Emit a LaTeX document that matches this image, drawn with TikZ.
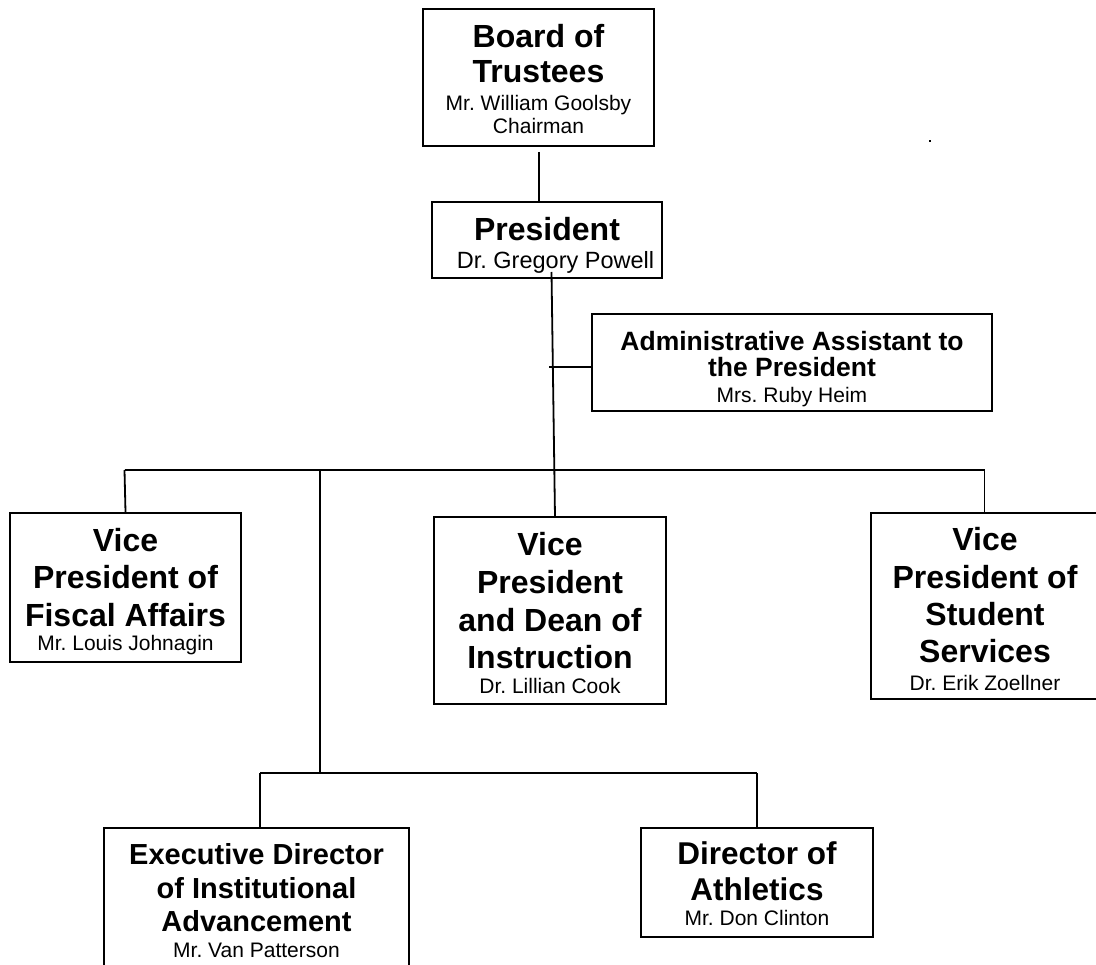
\documentclass[tikz,border=0pt]{standalone}
\usepackage{fontspec}
\setmainfont{Liberation Sans}
\frenchspacing
\newcommand\Tf[1]{\fontsize{#1}{#1}\selectfont\bfseries}
\newcommand\Nf[1]{\fontsize{#1}{#1}\selectfont\mdseries}
% one centred line whose baseline sits #1 pt below the previous one
\newcommand\orgline[3]{\baselineskip=#1pt\relax\hbox to 0pt{\hss{#2#3}\hss}}
\newcommand\orgstack[1]{\vbox{\lineskiplimit=-1000pt\lineskip=0pt\parskip=0pt #1}}
\tikzset{
  orgbox/.style={draw=black, line width=1.8pt, inner sep=0pt, minimum width=#1},
  txt/.style={anchor=north, inner sep=0pt},
  link/.style={draw=black, line width=1.8pt},
}
\begin{document}
\begin{tikzpicture}[x=1pt,y=-1pt]
\clip (0,0) rectangle (1096,965);
\fill[white] (0,0) rectangle (1096,965);

% boxes
\node[orgbox=231pt, minimum height=137pt] (board) at (538.5,77.5) {};
\node[orgbox=230pt, minimum height=76pt] (pres) at (547,240) {};
\node[orgbox=400pt, minimum height=97pt] (admin) at (792,362.5) {};
\node[orgbox=231pt, minimum height=149pt] (vpf) at (125.5,587.5) {};
\node[orgbox=232pt, minimum height=187pt] (vpi) at (550,610.5) {};
\node[orgbox=228pt, minimum height=186pt] (vps) at (985,606) {};
\node[orgbox=305pt, minimum height=147pt] (exec) at (256.5,901.5) {};
\node[orgbox=232pt, minimum height=109pt] (dir) at (757,882.5) {};

% texts
\node[txt] (boardT) at (538.5,24.5) {\orgstack{%
  \orgline{0}{\Tf{32}}{Board of}\orgline{35}{\Tf{32}}{Trustees}%
  \orgline{28}{\Nf{21}}{Mr. William Goolsby}\orgline{23}{\Nf{21}}{Chairman}}};
\node[txt] (presT) at (547,217) {\orgstack{%
  \orgline{0}{\Tf{32}}{President}\orgline{27.7}{\Nf{23.5}}{\kern17pt Dr. Gregory Powell}}};
\node[txt] (adminT) at (792,331.5) {\orgstack{%
  \orgline{0}{\Tf{26.5}}{Administrative Assistant to}\orgline{26}{\Tf{26.5}}{the President}%
  \orgline{26}{\Nf{21}}{Mrs. Ruby Heim}}};
\node[txt] (vpfT) at (125.5,528) {\orgstack{%
  \orgline{0}{\Tf{32}}{Vice}\orgline{37.5}{\Tf{32}}{President of}\orgline{37.5}{\Tf{32}}{Fiscal Affairs}%
  \orgline{24}{\Nf{21}}{Mr. Louis Johnagin}}};
\node[txt] (vpiT) at (550,532) {\orgstack{%
  \orgline{0}{\Tf{32}}{Vice}\orgline{38}{\Tf{32}}{President}\orgline{38}{\Tf{32}}{and Dean of}%
  \orgline{37}{\Tf{32}}{Instruction}\orgline{25}{\Nf{21}}{Dr. Lillian Cook}}};
\node[txt] (vpsT) at (985,527.5) {\orgstack{%
  \orgline{0}{\Tf{32}}{Vice}\orgline{37.5}{\Tf{32}}{President of}\orgline{37.5}{\Tf{32}}{Student}%
  \orgline{37}{\Tf{32}}{Services}\orgline{28}{\Nf{21}}{Dr. Erik Zoellner}}};
\node[txt] (execT) at (256.5,843.3) {\orgstack{%
  \orgline{0}{\Tf{29}}{Executive Director}\orgline{33.5}{\Tf{29}}{of Institutional}%
  \orgline{33.5}{\Tf{29}}{Advancement}\orgline{25.9}{\Nf{21}}{Mr. Van Patterson}}};
\node[txt] (dirT) at (757,841.7) {\orgstack{%
  \orgline{0}{\Tf{31.5}}{Director of}\orgline{35.3}{\Tf{31.5}}{Athletics}%
  \orgline{25.7}{\Nf{21}}{Mr. Don Clinton}}};

% connector points
\coordinate (boardOut) at (539,152);
\coordinate (presOut) at (551.5,272);
\coordinate (vpiIn) at (555,517);
\coordinate (adminJ) at (549,367);
\coordinate (barL) at (124.5,470);
\coordinate (barR) at (984.5,470);
\coordinate (barM) at (320,470);
\coordinate (lowJ) at (320,773);
\coordinate (lowL) at (260,773);
\coordinate (lowR) at (757,773);

% connectors
\draw[link] (boardOut) -- (boardOut |- pres.north);
\draw[link] (presOut) -- (vpiIn);
\draw[link] (adminJ) -- (adminJ -| admin.west);
\draw[link] (barL) -- (barR);
\draw[link] (barL) -- (vpf.north);
\draw[link] (barR) -- (barR |- vps.north);
\draw[link] (barM) -- (lowJ);
\draw[link] (lowL) -- (lowR);
\draw[link] (lowL) -- (lowL |- exec.north);
\draw[link] (lowR) -- (dir.north);

% stray dot
\fill[black] (929,140) rectangle (931,142);
\end{tikzpicture}
\end{document}
